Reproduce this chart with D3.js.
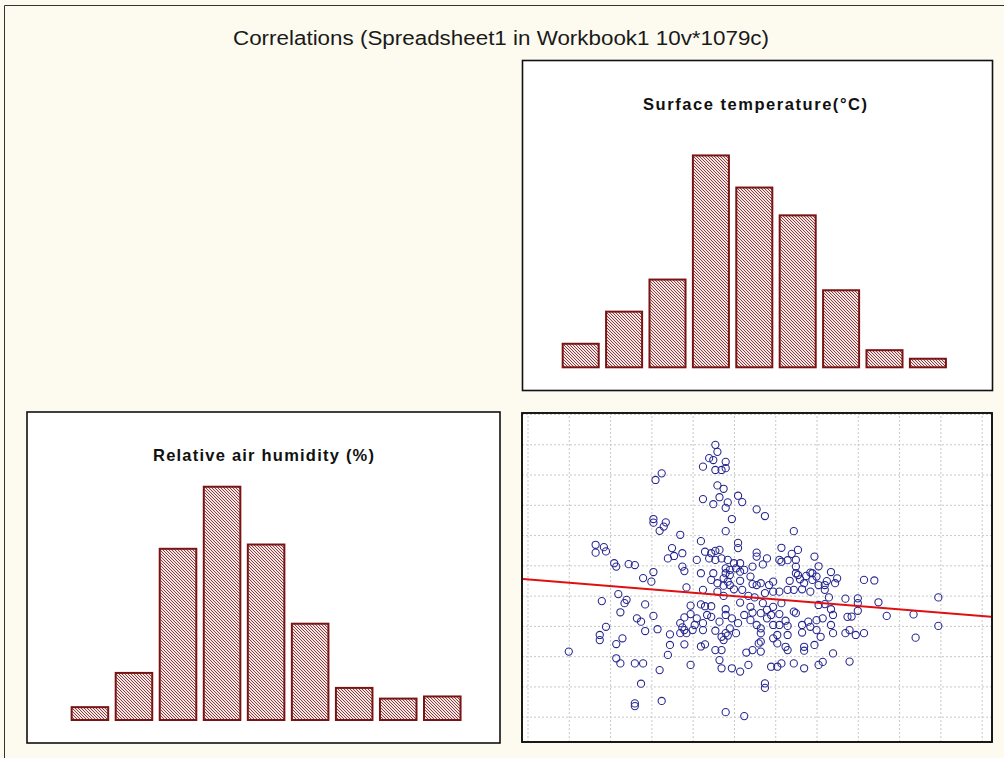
<!DOCTYPE html>
<html><head><meta charset="utf-8">
<script src="https://cdn.jsdelivr.net/npm/d3@7/dist/d3.min.js"></script>
<style>html,body{margin:0;padding:0;background:#fdfaf0;} svg{display:block}</style>
</head><body>
<svg id="chart" width="1004" height="758"></svg>
<script>
// ---------- data ----------
const chartTitle = "Correlations (Spreadsheet1 in Workbook1 10v*1079c)";
const tempTitle = "Surface temperature(°C)";
const humTitle = "Relative air humidity (%)";

const tempBins = ["12-14","14-16","16-18","18-20","20-22","22-24","24-26","26-28","28-30"];
const tempCounts = [11, 26, 41, 99, 84, 71, 36, 8, 4];

const humBins = ["0-10","10-20","20-30","30-40","40-50","50-60","60-70","70-80","80-90"];
const humCounts = [6, 22, 80, 109, 82, 45, 15, 10, 11];

// scatter: surface temperature (x) vs relative air humidity (y)
const scatterTemp = [
19.1,19.2,18.8,19.0,19.6,18.5,19.1,19.4,19.6,16.5,16.2,19.2,19.5,18.5,19.3,19.7,19.6,19.0,20.2,20.4,
21.1,19.9,16.1,16.1,16.7,16.6,16.4,19.6,17.4,21.5,22.9,
13.3,13.3,13.7,13.8,18.4,20.2,20.2,21.1,21.1,17.0,16.8,17.1,17.5,18.6,18.9,19.1,19.3,18.2,18.8,
19.1,19.4,19.7,20.0,20.3,20.5,20.1,19.8,19.6,19.6,19.8,20.3,14.2,14.3,14.9,15.2,17.5,17.6,16.1,16.0,
18.4,15.6,19.0,18.9,19.2,19.5,19.7,19.8,19.5,20.3,20.8,20.9,17.7,18.5,19.2,19.5,20.0,20.4,20.7,21.0,
20.9,21.1,22.3,23.1,23.9,22.8,21.6,21.4,22.2,22.3,22.6,23.0,23.0,23.0,23.1,24.1,23.8,23.7,23.5,24.0,
23.8,24.7,25.0,24.5,24.9,23.2,22.7,23.4,23.3,21.9,21.7,21.3,22.6,22.2,21.9,21.5,22.9,23.7,24.4,24.6,
26.3,26.8,25.4,26.0,24.1,24.4,13.6,14.4,14.8,14.7,
15.7,14.5,15.3,15.5,16.1,17.9,18.4,18.6,18.9,19.6,20.3,20.8,20.9,17.6,17.4,17.5,17.4,17.7,17.6,17.9,
18.2,18.1,18.5,18.7,18.9,19.3,19.6,19.9,20.2,20.5,20.8,21.1,21.3,18.5,19.1,19.6,19.7,20.1,19.4,19.8,
17.6,18.4,18.6,19.5,19.1,19.4,20.6,20.9,21.2,19.3,19.4,19.9,20.3,17.9,20.7,16.3,16.9,16.9,16.8,16.4,
13.8,13.5,13.5,14.6,14.3,15.7,18.0,12.0,14.3,14.5,15.2,15.6,15.5,15.2,15.2,16.5,19.6,20.5,
21.4,21.9,22.3,21.6,21.8,22.2,22.9,23.0,24.1,24.4,24.7,24.8,25.5,25.7,26.0,21.6,21.3,21.3,21.9,22.2,
22.5,22.6,22.6,22.1,23.3,23.6,24.0,24.3,24.7,23.3,23.7,24.0,24.2,24.8,25.4,25.6,25.9,26.3,21.3,21.3,
21.9,22.1,22.5,22.6,23.4,23.4,23.9,24.8,25.6,21.8,22.1,22.3,22.9,23.4,24.1,24.3,21.5,21.5,
29.9,26.0,27.0,27.4,28.7,29.9,28.8
];
const scatterHum = [
89.8,87.5,85.4,84.8,84.2,82.6,81.5,81.5,82.1,80.4,78.2,76.4,75.3,71.9,72.5,70.8,69.0,70.2,73.0,70.9,
68.5,65.3,65.3,64.1,64.2,62.8,61.4,61.3,60.1,66.3,61.3,
56.8,54.2,56.0,54.6,58.0,57.4,55.7,54.2,52.9,55.7,52.3,53.1,54.0,54.5,54.0,54.8,55.1,51.8,52.3,
51.8,52.3,51.8,50.7,50.7,48.5,49.0,48.5,49.0,47.4,46.8,47.9,50.7,49.6,50.4,50.1,49.6,48.1,47.8,44.6,
47.4,45.8,47.4,45.2,44.1,45.7,44.6,43.5,43.3,44.9,46.3,49.6,42.7,41.9,41.3,39.9,42.1,41.9,39.9,39.4,
43.8,43.5,55.8,55.1,52.9,53.8,52.3,50.3,51.8,51.2,51.7,51.8,49.6,47.4,46.8,49.7,47.4,47.6,46.5,46.3,
45.2,47.8,45.7,44.8,44.1,45.4,44.9,44.1,42.1,44.6,43.5,44.1,41.9,41.3,41.3,40.8,41.9,41.3,41.9,39.4,
45.2,45.0,39.0,39.1,43.5,43.5,38.2,40.5,38.6,37.5,
37.1,34.5,32.5,31.4,33.3,36.7,37.1,36.5,36.5,35.5,37.7,36.3,34.4,32.8,30.9,29.5,27.6,27.6,28.6,33.9,
32.5,30.3,30.9,33.6,33.0,31.4,33.6,32.5,30.9,33.6,31.9,30.3,34.2,28.6,28.4,27.6,26.8,27.6,26.4,29.2,
23.9,23.2,23.9,25.3,22.0,22.0,21.2,22.0,24.2,18.7,16.0,16.0,14.9,17.1,17.1,28.9,27.2,23.7,20.4,15.4,
29.7,27.0,25.3,25.9,24.0,28.3,28.6,21.5,19.3,17.6,17.6,17.6,10.9,4.4,3.5,5.2,1.5,0.2,
37.5,36.3,37.5,35.3,33.6,33.9,34.7,34.2,36.9,37.2,35.5,33.6,33.0,33.1,35.0,32.5,29.2,27.6,30.3,30.3,
31.7,30.0,27.0,27.0,30.3,31.4,31.9,32.5,30.3,27.8,29.7,28.6,26.4,27.6,27.6,28.6,27.0,27.6,24.8,21.5,
25.9,24.2,23.1,22.0,23.1,21.8,23.7,20.9,18.2,16.5,16.5,17.6,17.6,16.0,17.1,18.1,11.0,9.5,
39.4,37.5,37.8,33.3,33.8,30.0,26.1
];
const xGridTicks = [10,12,14,16,18,20,22,24,26,28,30,32];
const yGridTicks = [0,10,20,30,40,50,60,70,80,90,100];
const regIntercept = [50.86];
const regSlope = [-0.551];

// ---------- drawing ----------
const svg = d3.select("#chart");
const W = 1004, H = 758;
const ink = "#7a1414";

svg.append("rect").attr("x",0).attr("y",0).attr("width",W).attr("height",H).attr("fill","#fdfaf0");
svg.append("path").attr("d","M4.5,758 V5.5 H1004").attr("fill","none").attr("stroke","#333").attr("stroke-width",1);

const defs = svg.append("defs");
const pat = defs.append("pattern").attr("id","hatch").attr("patternUnits","userSpaceOnUse")
  .attr("width",3).attr("height",3);
pat.append("rect").attr("width",3).attr("height",3).attr("fill","#f2e6e6");
pat.append("path").attr("d","M-1,-1 L4,4 M2,-1 L4,1 M-1,2 L1,4")
  .attr("stroke","#873535").attr("stroke-width",0.95);

svg.append("text").attr("x",501).attr("y",45).attr("text-anchor","middle")
  .attr("font-family","'Liberation Sans', Arial, sans-serif").attr("font-size",20)
  .attr("fill","#1a1a1a").attr("textLength",536).attr("lengthAdjust","spacingAndGlyphs").text(chartTitle);

function panel(x,y,w,h){
  svg.append("rect").attr("x",x).attr("y",y).attr("width",w).attr("height",h)
    .attr("fill","#ffffff").attr("stroke","#111").attr("stroke-width",1.6);
}

function histogram(bins, counts, title, box, r0, r1, base, titleX, titleY, titleW){
  panel(box[0],box[1],box[2],box[3]);
  const x = d3.scaleBand().domain(bins).range([r0,r1]).paddingInner(0.17).paddingOuter(0.085);
  const y = d3.scaleLinear().domain([0,100]).range([base, base-214]);
  svg.append("g").selectAll("rect").data(counts).join("rect")
    .attr("x",(d,i)=>x(bins[i])).attr("width",x.bandwidth())
    .attr("y",d=>y(d)).attr("height",d=>y(0)-y(d))
    .attr("fill","url(#hatch)").attr("stroke",ink).attr("stroke-width",2);
  svg.append("text").attr("x",titleX).attr("y",titleY).attr("text-anchor","middle")
    .attr("font-family","'Liberation Sans', Arial, sans-serif").attr("font-weight","bold")
    .attr("font-size",16.5).attr("fill","#111")
    .attr("textLength",titleW).attr("lengthAdjust","spacing").text(title);
}

histogram(tempBins, tempCounts, tempTitle, [522.5,60.5,470,330], 559, 949.6, 367.3, 755, 110, 224);
histogram(humBins, humCounts, humTitle, [27,412,473,331], 67.9, 464.3, 720, 263.5, 461, 221);

// scatter panel
const sp = {x:522, y:413, w:470, h:329};
panel(sp.x, sp.y, sp.w, sp.h);
const sx = d3.scaleLinear().domain([9.734, 32.5]).range([sp.x, sp.x+sp.w]);
const sy = d3.scaleLinear().domain([-8.36, 100.33]).range([sp.y+sp.h, sp.y]);
defs.append("clipPath").attr("id","sclip").append("rect")
  .attr("x",sp.x+1).attr("y",sp.y+1).attr("width",sp.w-2).attr("height",sp.h-2);
const sg = svg.append("g").attr("clip-path","url(#sclip)");
sg.append("g").attr("transform",`translate(0,${sp.y+sp.h})`)
  .call(d3.axisBottom(sx).tickValues(xGridTicks).tickSize(-sp.h).tickFormat(""))
  .call(g=>g.select(".domain").remove())
  .call(g=>g.selectAll("line").attr("stroke","#c8c8c8").attr("stroke-dasharray","2,2"));
sg.append("g").attr("transform",`translate(${sp.x},0)`)
  .call(d3.axisLeft(sy).tickValues(yGridTicks).tickSize(-sp.w).tickFormat(""))
  .call(g=>g.select(".domain").remove())
  .call(g=>g.selectAll("line").attr("stroke","#c8c8c8").attr("stroke-dasharray","2,2"));
sg.append("g").selectAll("circle").data(scatterTemp).join("circle")
  .attr("cx",d=>sx(d)).attr("cy",(d,i)=>sy(scatterHum[i])).attr("r",3.6)
  .attr("fill","none").attr("stroke","#24248f").attr("stroke-width",1.05);
const xd = sx.domain();
sg.append("line").attr("x1",sx(xd[0])).attr("x2",sx(xd[1]))
  .attr("y1",sy(regIntercept[0]+regSlope[0]*xd[0])).attr("y2",sy(regIntercept[0]+regSlope[0]*xd[1]))
  .attr("stroke","#e01010").attr("stroke-width",2);
svg.append("rect").attr("x",sp.x).attr("y",sp.y).attr("width",sp.w).attr("height",sp.h)
  .attr("fill","none").attr("stroke","#111").attr("stroke-width",1.6);
</script>
</body></html>
